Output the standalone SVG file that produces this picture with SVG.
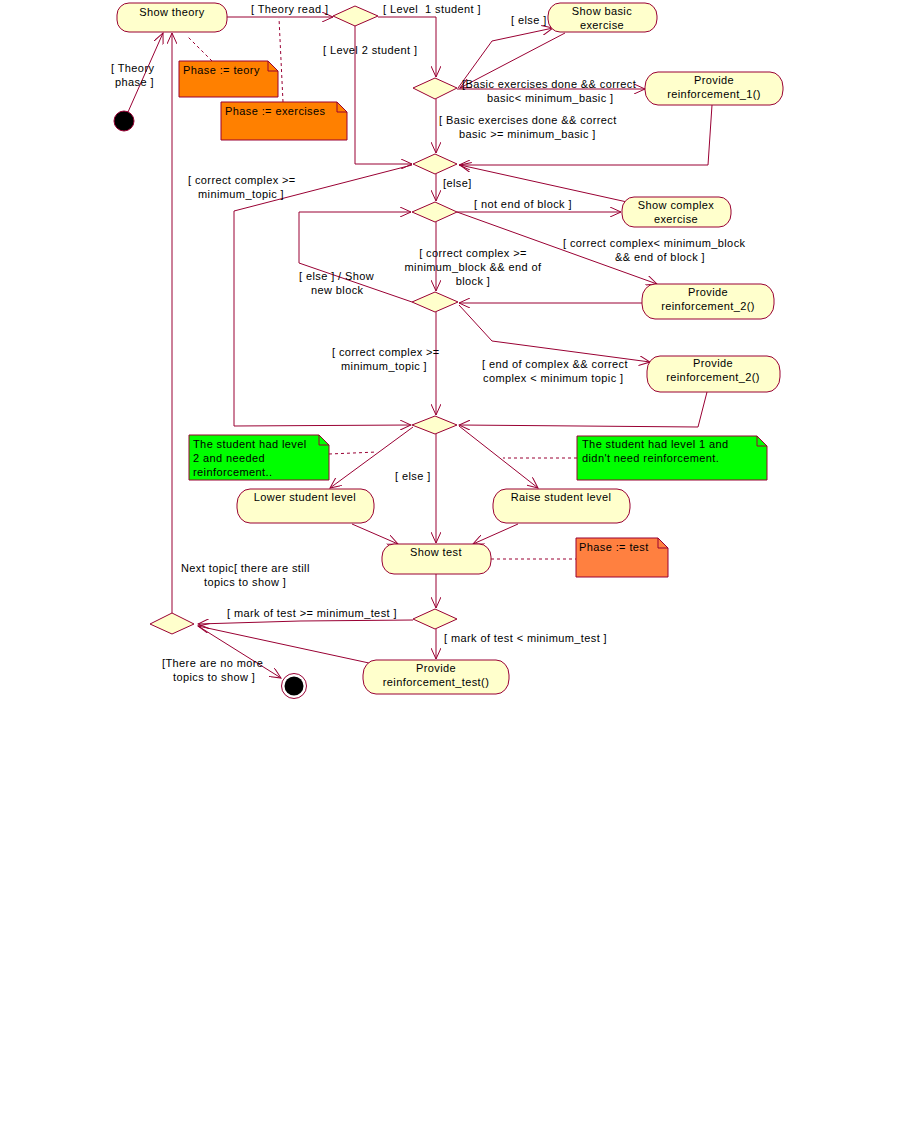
<svg xmlns="http://www.w3.org/2000/svg" width="901" height="1144" viewBox="0 0 901 1144">
<defs>
<marker id="arr" markerWidth="12" markerHeight="10" refX="11" refY="5" orient="auto" markerUnits="userSpaceOnUse">
<path d="M0,0 L11,5 L0,10" fill="none" stroke="#990033" stroke-width="1"/>
</marker>
</defs>
<style>
text{font-family:"Liberation Sans",Arial,sans-serif;font-size:11px;letter-spacing:0.4px;fill:#000;white-space:pre}
.c{text-anchor:middle}
.act{fill:#FFFFCC;stroke:#990033;stroke-width:1}
.dia{fill:#FFFFCC;stroke:#990033;stroke-width:1}
.e{fill:none;stroke:#990033;stroke-width:1;marker-end:url(#arr)}
.d{fill:none;stroke:#990033;stroke-width:1;stroke-dasharray:3,3}
.note{stroke:#990033;stroke-width:1}
.fold{fill:none;stroke:#990033;stroke-width:1}
</style>
<rect width="901" height="1144" fill="#fff"/>

<g id="connectors">
<line class="e" x1="128" y1="112" x2="163" y2="33"/>
<line class="e" x1="227" y1="17" x2="333" y2="17"/>
<polyline class="e" points="378,17 436,17 436,77"/>
<polyline class="e" points="355,26 355,164 412,164"/>
<polyline class="e" points="458,88 492,41 553,28"/>
<line class="e" x1="565" y1="33" x2="460" y2="88"/>
<line class="e" x1="457" y1="89" x2="645" y2="89"/>
<polyline class="e" points="712,105 708,165 459,165"/>
<line class="e" x1="436" y1="99" x2="436" y2="153"/>
<line class="e" x1="436" y1="174" x2="436" y2="201"/>
<line class="e" x1="627" y1="202" x2="460" y2="165"/>
<line class="e" x1="457" y1="212" x2="621" y2="212"/>
<line class="e" x1="457" y1="212" x2="657" y2="284"/>
<line class="e" x1="642" y1="303" x2="459" y2="303"/>
<line class="e" x1="436" y1="222" x2="436" y2="291"/>
<polyline class="e" points="412,302 299,263 299,212 411,212"/>
<polyline class="e" points="459,305 492,341 650,362"/>
<polyline class="e" points="707,392 698,427 459,425"/>
<line class="e" x1="436" y1="312" x2="436" y2="415"/>
<polyline class="e" points="412,165 234,211 234,426 411,425"/>
<line class="e" x1="413" y1="427" x2="330" y2="488"/>
<line class="e" x1="459" y1="426" x2="538" y2="488"/>
<line class="e" x1="436" y1="434" x2="436" y2="543"/>
<line class="e" x1="352" y1="524" x2="398" y2="544"/>
<line class="e" x1="518" y1="524" x2="473" y2="544"/>
<line class="e" x1="436" y1="574" x2="436" y2="608"/>
<line class="e" x1="436" y1="629" x2="436" y2="659"/>
<polyline class="e" points="413,620 300,621 198,624"/>
<line class="e" x1="369" y1="663" x2="198" y2="626"/>
<line class="e" x1="198" y1="626" x2="281" y2="678"/>
<line class="e" x1="172" y1="613" x2="172" y2="33"/>
<line class="d" x1="212" y1="61" x2="188" y2="37"/>
<line class="d" x1="283" y1="102" x2="279" y2="18"/>
<line class="d" x1="329" y1="454" x2="377" y2="452"/>
<line class="d" x1="577" y1="458" x2="503" y2="458"/>
<line class="d" x1="491" y1="559" x2="576" y2="559"/>
</g>

<g id="labels">
<text x="111" y="72">[ Theory</text>
<text x="115" y="86">phase ]</text>
<text x="251" y="13">[ Theory read ]</text>
<text x="383" y="13">[ Level&#160; 1 student ]</text>
<text x="323" y="54">[ Level 2 student ]</text>
<text x="511" y="24">[ else ]</text>
<text x="462" y="88">[Basic exercises done &amp;&amp; correct</text>
<text x="487" y="102">basic&lt; minimum_basic ]</text>
<text x="439" y="124">[ Basic exercises done &amp;&amp; correct</text>
<text x="459" y="138">basic &gt;= minimum_basic ]</text>
<text x="443" y="187">[else]</text>
<text x="474" y="208">[ not end of block ]</text>
<text x="563" y="247">[ correct complex&lt; minimum_block</text>
<text x="615" y="261">&amp;&amp; end of block ]</text>
<text class="c" x="473" y="257">[ correct complex &gt;=</text>
<text class="c" x="473" y="271">minimum_block &amp;&amp; end of</text>
<text class="c" x="473" y="285">block ]</text>
<text x="299" y="280">[ else ] / Show</text>
<text x="311" y="294">new block</text>
<text x="188" y="184">[ correct complex &gt;=</text>
<text x="198" y="198">minimum_topic ]</text>
<text x="332" y="356">[ correct complex &gt;=</text>
<text x="341" y="370">minimum_topic ]</text>
<text x="482" y="368">[ end of complex &amp;&amp; correct</text>
<text x="483" y="382">complex &lt; minimum topic ]</text>
<text x="395" y="480">[ else ]</text>
<text x="181" y="572">Next topic[ there are still</text>
<text x="204" y="586">topics to show ]</text>
<text x="227" y="617">[ mark of test &gt;= minimum_test ]</text>
<text x="444" y="642">[ mark of test &lt; minimum_test ]</text>
<text x="162" y="667">[There are no more</text>
<text x="173" y="681">topics to show ]</text>
</g>

<g id="initial"><circle cx="124" cy="121" r="10" fill="#000" stroke="#990033"/></g>
<g id="final"><circle cx="294" cy="686" r="12.5" fill="#fff" stroke="#990033"/><circle cx="294" cy="686" r="9.5" fill="#000"/></g>

<g id="show_theory"><rect class="act" x="117" y="3" width="110" height="29" rx="12" ry="12"/><text class="c" x="172" y="16">Show theory</text></g>
<g id="d1"><polygon class="dia" points="333,16 355,6 378,16 355,26"/></g>
<g id="d2"><polygon class="dia" points="413,88 435,78 457,88 435,99"/></g>
<g id="d3"><polygon class="dia" points="413,164 435,154 457,164 435,174"/></g>
<g id="d4"><polygon class="dia" points="412,212 435,202 457,212 435,222"/></g>
<g id="d5"><polygon class="dia" points="412,302 435,292 458,302 435,312"/></g>
<g id="d6"><polygon class="dia" points="412,425 435,416 457,425 435,434"/></g>
<g id="d7"><polygon class="dia" points="413,619 435,609 457,619 435,629"/></g>
<g id="d8"><polygon class="dia" points="150,624 172,613 194,624 172,634"/></g>

<g id="show_basic"><rect class="act" x="548" y="3" width="109" height="29" rx="12" ry="13"/><text class="c" x="602" y="15">Show basic</text><text class="c" x="602" y="29">exercise</text></g>
<g id="reinf1"><rect class="act" x="645" y="72" width="138" height="33" rx="13" ry="15"/><text class="c" x="714" y="84">Provide</text><text class="c" x="714" y="98">reinforcement_1()</text></g>
<g id="show_complex"><rect class="act" x="622" y="197" width="109" height="30" rx="12" ry="13"/><text class="c" x="676" y="209">Show complex</text><text class="c" x="676" y="223">exercise</text></g>
<g id="reinf2a"><rect class="act" x="642" y="284" width="132" height="35" rx="13" ry="15"/><text class="c" x="708" y="296">Provide</text><text class="c" x="708" y="310">reinforcement_2()</text></g>
<g id="reinf2b"><rect class="act" x="647" y="356" width="133" height="36" rx="13" ry="15"/><text class="c" x="713" y="367">Provide</text><text class="c" x="713" y="381">reinforcement_2()</text></g>
<g id="lower"><rect class="act" x="237" y="489" width="137" height="34" rx="13" ry="15"/><text class="c" x="305" y="501">Lower student level</text></g>
<g id="raise"><rect class="act" x="493" y="489" width="137" height="34" rx="13" ry="15"/><text class="c" x="561" y="501">Raise student level</text></g>
<g id="show_test"><rect class="act" x="382" y="544" width="109" height="30" rx="12" ry="13"/><text class="c" x="436" y="556">Show test</text></g>
<g id="reinf_test"><rect class="act" x="363" y="660" width="146" height="34" rx="13" ry="15"/><text class="c" x="436" y="672">Provide</text><text class="c" x="436" y="686">reinforcement_test()</text></g>

<g id="note_teory"><path class="note" fill="#FF8000" d="M179,61 H268 L278,71 V97 H179 Z"/><path class="fold" d="M268,61 V71 H278"/><text x="183" y="74">Phase := teory</text></g>
<g id="note_exercises"><path class="note" fill="#FF8000" d="M221,102 H337 L347,112 V140 H221 Z"/><path class="fold" d="M337,102 V112 H347"/><text x="225" y="115">Phase := exercises</text></g>
<g id="note_level2"><path class="note" fill="#00FF00" d="M189,435 H319 L329,445 V480 H189 Z"/><path class="fold" d="M319,435 V445 H329"/><text x="193" y="448">The student had level</text><text x="193" y="462">2 and needed</text><text x="193" y="476">reinforcement..</text></g>
<g id="note_level1"><path class="note" fill="#00FF00" d="M577,436 H757 L767,446 V480 H577 Z"/><path class="fold" d="M757,436 V446 H767"/><text x="582" y="448">The student had level 1 and</text><text x="582" y="462">didn't need reinforcement.</text></g>
<g id="note_test"><path class="note" fill="#FF8040" d="M576,538 H658 L668,548 V577 H576 Z"/><path class="fold" d="M658,538 V548 H668"/><text x="579" y="551">Phase := test</text></g>
</svg>
